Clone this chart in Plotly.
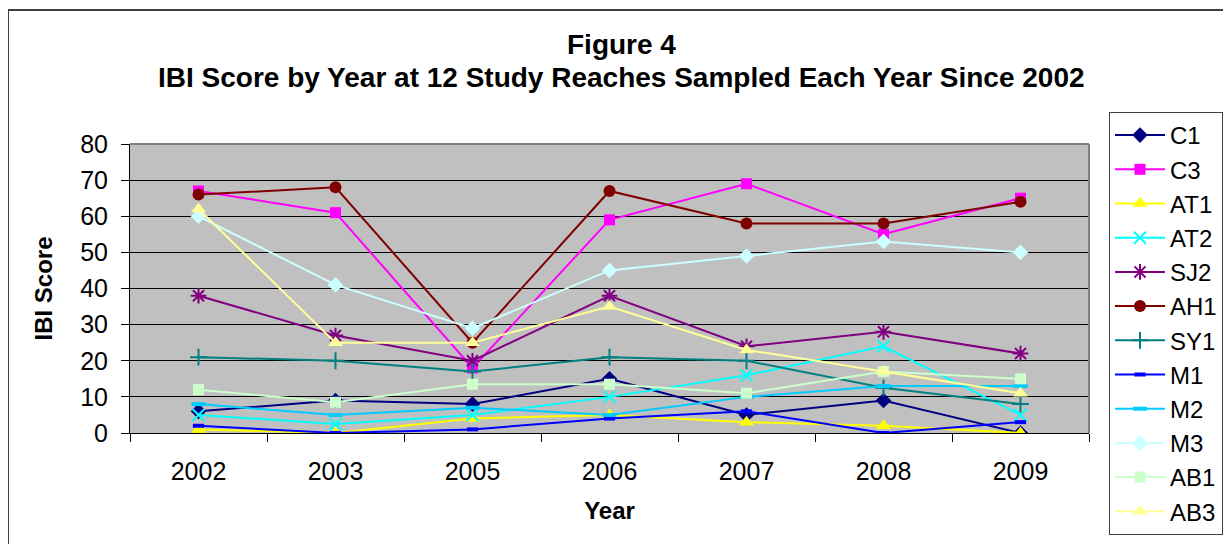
import plotly.graph_objects as go

years = ["2002", "2003", "2005", "2006", "2007", "2008", "2009"]

C1 = [6, 9, 8, 15, 5, 9, 0]
C3 = [67, 61, 18, 59, 69, 55, 65]
AT1 = [1, 0, 4, 5, 3, 2, 0]
AT2 = [5, 2.5, 5, 10, 16, 24, 5]
SJ2 = [38, 27, 20, 38, 24, 28, 22]
AH1 = [66, 68, 25, 67, 58, 58, 64]
SY1 = [21, 20, 17, 21, 20, 12.5, 8]
M1 = [2, 0, 1, 4, 6, 0, 3]
M2 = [8, 5, 7, 5, 10, 13, 13]
M3 = [60, 41, 29, 45, 49, 53, 50]
AB1 = [12, 8.5, 13.5, 13.5, 11, 17, 15]
AB3 = [62, 25, 25, 35, 23, 17, 11]

series = [
    ("C1", C1, "#000080", "diamond", 12, 0),
    ("C3", C3, "#FF00FF", "square", 11, 0),
    ("AT1", AT1, "#FFFF00", "triangle-up", 13, 0),
    ("AT2", AT2, "#00FFFF", "x-thin", 12, 2),
    ("SJ2", SJ2, "#800080", "asterisk", 13, 2),
    ("AH1", AH1, "#800000", "circle", 12, 0),
    ("SY1", SY1, "#008080", "cross-thin", 12, 2),
    ("M1", M1, "#0000FF", "line-ew", 8, 4),
    ("M2", M2, "#00CCFF", "line-ew", 10, 4),
    ("M3", M3, "#CCFFFF", "diamond", 12, 0),
    ("AB1", AB1, "#CCFFCC", "square", 11, 0),
    ("AB3", AB3, "#FFFF99", "triangle-up", 13, 0),
]

FONT = "Liberation Sans, Arial, sans-serif"

fig = go.Figure()
for name, vals, color, sym, size, lw in series:
    marker = dict(symbol=sym, size=size, color=color)
    if lw:
        marker["line"] = dict(color=color, width=lw)
    else:
        marker["line"] = dict(width=0)
    fig.add_trace(go.Scatter(
        x=years, y=vals, name=name, mode="lines+markers",
        line=dict(color=color, width=2), marker=marker,
    ))

# page body has an 8px margin, so figure coords = screen coords - 8
OFF = 8
W, H = 1231, 544
L, T = 130 - OFF, 144 - OFF
R = W - (1089 - OFF)
B = H - (433 - OFF)
pw, ph = W - L - R, H - T - B

def px(xs):
    return (xs - OFF - L) / pw

def py(ys):
    return (H - B - (ys - OFF)) / ph

fig.update_layout(
    width=W, height=H,
    margin=dict(l=L, r=R, t=T, b=B, autoexpand=False),
    paper_bgcolor="white",
    plot_bgcolor="#C0C0C0",
    font=dict(family=FONT, color="black", size=24),
    showlegend=True,
    legend=dict(
        x=px(1109), y=py(112), xanchor="left", yanchor="top",
        bgcolor="white", bordercolor="#404040", borderwidth=1,
        font=dict(family=FONT, size=24, color="black"),
        traceorder="normal", maxheight=600, itemwidth=50,
    ),
    xaxis=dict(
        type="category", range=[-0.5, 6.5],
        showline=True, linecolor="black", linewidth=1,
        ticks="outside", ticklen=8, tickcolor="black", tickson="boundaries",
        showgrid=False, ticklabelstandoff=16,
        tickfont=dict(family=FONT, size=25, color="black"),
        title=dict(text="<b>Year</b>", font=dict(family=FONT, size=24, color="black"), standoff=18),
    ),
    yaxis=dict(
        range=[0, 80], dtick=10, tick0=0,
        showline=True, linecolor="black", linewidth=1,
        ticks="outside", ticklen=8, tickcolor="black",
        showgrid=True, gridcolor="black", gridwidth=1, zeroline=False,
        ticklabelstandoff=8,
        tickfont=dict(family=FONT, size=25, color="black"),
        title=dict(text="<b>IBI Score</b>", font=dict(family=FONT, size=24, color="black"), standoff=20),
    ),
    annotations=[
        dict(text="<b>Figure 4</b>", xref="paper", yref="paper", x=px(621), y=py(44),
             xanchor="center", yanchor="middle", showarrow=False,
             font=dict(family=FONT, size=28, color="black")),
        dict(text="<b>IBI Score by Year at 12 Study Reaches Sampled Each Year Since 2002</b>",
             xref="paper", yref="paper", x=px(621), y=py(77),
             xanchor="center", yanchor="middle", showarrow=False,
             font=dict(family=FONT, size=28, color="black")),
    ],
    shapes=[
        dict(type="line", xref="paper", yref="paper", x0=0, x1=1, y0=1, y1=1,
             line=dict(color="#808080", width=2)),
        dict(type="line", xref="paper", yref="paper", x0=1, x1=1, y0=0, y1=1,
             line=dict(color="#808080", width=2)),
        dict(type="line", xref="paper", yref="paper", x0=px(8), x1=px(1260), y0=py(10), y1=py(10),
             line=dict(color="#404040", width=2)),
        dict(type="line", xref="paper", yref="paper", x0=px(8), x1=px(8), y0=py(10), y1=py(560),
             line=dict(color="#404040", width=2)),
    ],
)

fig.write_html("out.html")
